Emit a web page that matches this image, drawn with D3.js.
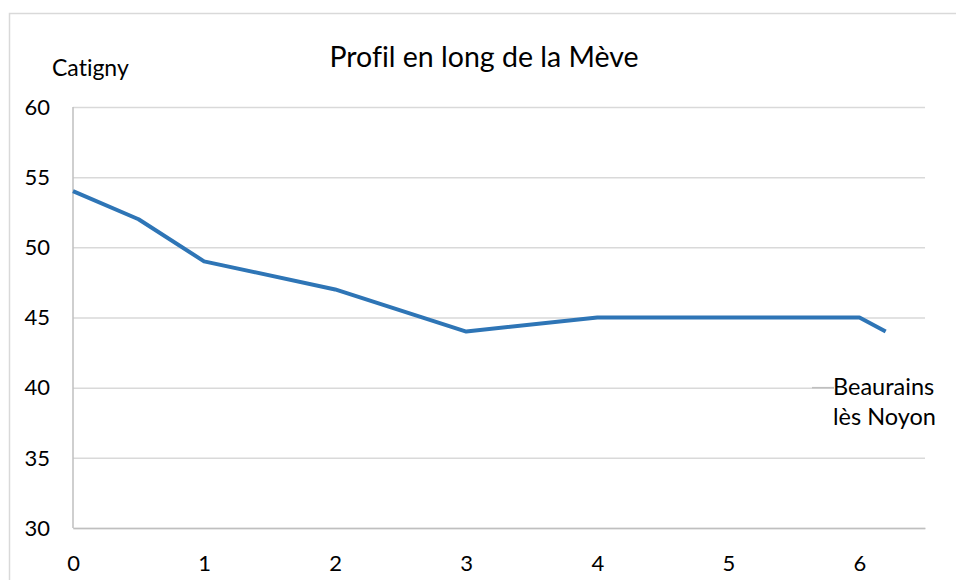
<!DOCTYPE html>
<html>
<head>
<meta charset="utf-8">
<script src="https://cdn.jsdelivr.net/npm/d3@7"></script>
<style>
body { margin: 0; background: #fff; }
svg text { font-family: Lato, "Open Sans", sans-serif; fill: #000; font-variant-ligatures: none; }
</style>
</head>
<body>
<div class="chart"></div>
<script>
// profil en long : distance (km) / altitude (m)
var distances = [0, 0.5, 1, 2, 3, 4, 5, 6, 6.2];
var altitudes = [54, 52, 49, 47, 44, 45, 45, 45, 44];
var xTicks = [0, 1, 2, 3, 4, 5, 6];
var yTicks = [30, 35, 40, 45, 50, 55, 60];

var width = 956,
	height = 580;

var margin = {left: 73, right: 31, top: 107, bottom: 52};

var svg = d3.select(".chart").append("svg")
	.attr("width", width)
	.attr("height", height);

// cadre du graphique
svg.append("rect")
	.attr("x", 9.5).attr("y", 13.5)
	.attr("width", 980).attr("height", 620)
	.attr("fill", "none")
	.attr("stroke", "#d9d9d9")
	.attr("stroke-width", 1.5);

var x = d3.scaleLinear()
	.domain([0, 6.5])
	.range([margin.left, width - margin.right]);

var y = d3.scaleLinear()
	.domain([30, 60])
	.range([height - margin.bottom, margin.top]);

// grille horizontale
svg.append("g")
	.attr("transform", "translate(" + margin.left + ",0)")
	.call(d3.axisLeft(y).tickValues(yTicks).tickSize(-(x(6.5) - x(0))).tickFormat(""))
	.call(g => g.select(".domain").remove())
	.selectAll("line")
	.attr("stroke", "#d9d9d9")
	.attr("stroke-width", 1.5);

// étiquettes Y
svg.append("g")
	.selectAll("text")
	.data(yTicks)
	.enter().append("text")
	.attr("x", 50)
	.attr("y", function(d) { return y(d); })
	.attr("dy", "0.35em")
	.attr("text-anchor", "end")
	.style("font-size", "22px")
	.text(function(d) { return d; });

// axe X
svg.append("g")
	.attr("transform", "translate(0," + y(30) + ")")
	.call(d3.axisBottom(x).tickValues(xTicks).tickSize(0).tickPadding(0).tickFormat(d3.format("d")))
	.call(g => g.select(".domain").attr("stroke", "#bfbfbf").attr("stroke-width", 1.5))
	.selectAll("text")
	.attr("dy", "0")
	.attr("y", 43)
	.style("font-size", "22px")
	.style("font-family", "Lato, 'Open Sans', sans-serif");

// axe Y
svg.append("line")
	.attr("x1", x(0)).attr("x2", x(0))
	.attr("y1", y(30)).attr("y2", y(60))
	.attr("stroke", "#bfbfbf")
	.attr("stroke-width", 1.5);

var points = distances.map(function(d, i) { return [d, altitudes[i]]; });

var line = d3.line()
	.x(function(d) { return x(d[0]); })
	.y(function(d) { return y(d[1]); });

svg.append("path")
	.datum(points)
	.attr("d", line)
	.attr("fill", "none")
	.attr("stroke", "#2e75b6")
	.attr("stroke-width", 4)
	.attr("stroke-linejoin", "round");

// titre
svg.append("text")
	.attr("x", 484)
	.attr("y", 67)
	.attr("text-anchor", "middle")
	.style("font-size", "28.5px")
	.text("Profil en long de la Mève");

// étiquettes des extrémités
svg.append("text")
	.attr("x", 52)
	.attr("y", 76)
	.style("font-size", "23px")
	.text("Catigny");

svg.append("line")
	.attr("x1", 812).attr("x2", 834)
	.attr("y1", y(40)).attr("y2", y(40))
	.attr("stroke", "#bfbfbf")
	.attr("stroke-width", 1.5);

svg.append("rect")
	.attr("x", 834).attr("y", 372)
	.attr("width", 110).attr("height", 62)
	.attr("fill", "#fff");

var lab = svg.append("text")
	.attr("x", 833)
	.style("font-size", "23.5px");
lab.append("tspan").attr("x", 833).attr("y", 395).text("Beaurains");
lab.append("tspan").attr("x", 833).attr("y", 425).text("lès Noyon");
</script>
</body>
</html>
